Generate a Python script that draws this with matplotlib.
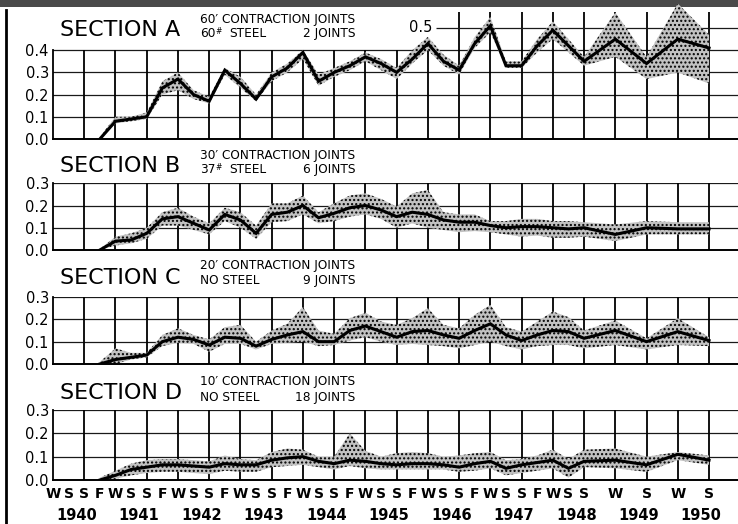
import matplotlib
matplotlib.use("Agg")
import matplotlib.pyplot as plt
from matplotlib.lines import Line2D
from matplotlib.patches import Rectangle
from matplotlib.transforms import blended_transform_factory

plt.rcParams["font.family"] = ["DejaVu Sans"]
plt.rcParams["hatch.color"] = "black"
plt.rcParams["hatch.linewidth"] = 1.0

# ---- season axis -------------------------------------------------------
season_letters = ["W", "S", "S", "F"] * 8 + ["W", "S", "S"] + ["W", "S", "W", "S"]
season_pos = list(range(35)) + [36, 38, 40, 42]
years = ["1940", "1941", "1942", "1943", "1944", "1945",
         "1946", "1947", "1948", "1949", "1950"]
winter_pos = [0, 4, 8, 12, 16, 20, 24, 28, 32, 36, 40]

# observations start in the fall of 1940
obs_pos = season_pos[3:]

# ---- joint openings (inches): mean and range ---------------------------
a_mean = [0.00, 0.08, 0.09, 0.10, 0.23, 0.27, 0.20, 0.17, 0.31, 0.25, 0.18,
          0.28, 0.32, 0.39, 0.26, 0.30, 0.33, 0.37, 0.34, 0.30, 0.36, 0.43,
          0.35, 0.31, 0.43, 0.51, 0.33, 0.33, 0.42, 0.49, 0.42, 0.35,
          0.45, 0.34, 0.45, 0.41]
a_high = [0.01, 0.10, 0.10, 0.12, 0.26, 0.30, 0.22, 0.19, 0.32, 0.28, 0.20,
          0.30, 0.34, 0.40, 0.29, 0.32, 0.35, 0.39, 0.36, 0.32, 0.40, 0.46,
          0.38, 0.33, 0.46, 0.55, 0.35, 0.35, 0.45, 0.53, 0.45, 0.37,
          0.57, 0.37, 0.61, 0.47]
a_low = [0.00, 0.07, 0.08, 0.09, 0.20, 0.22, 0.18, 0.16, 0.29, 0.23, 0.17,
         0.26, 0.30, 0.36, 0.24, 0.28, 0.31, 0.35, 0.31, 0.27, 0.34, 0.40,
         0.33, 0.29, 0.41, 0.48, 0.32, 0.32, 0.39, 0.45, 0.39, 0.33,
         0.37, 0.27, 0.30, 0.25]

b_mean = [0.00, 0.04, 0.045, 0.075, 0.14, 0.15, 0.12, 0.09, 0.16, 0.135, 0.075,
          0.16, 0.17, 0.20, 0.145, 0.165, 0.19, 0.20, 0.18, 0.15, 0.17, 0.16,
          0.135, 0.125, 0.125, 0.11, 0.10, 0.105, 0.105, 0.10, 0.095, 0.10,
          0.07, 0.10, 0.095, 0.095]
b_high = [0.005, 0.06, 0.075, 0.10, 0.17, 0.19, 0.15, 0.12, 0.19, 0.17, 0.11,
          0.21, 0.21, 0.245, 0.17, 0.21, 0.245, 0.255, 0.23, 0.195, 0.255, 0.27,
          0.17, 0.16, 0.16, 0.13, 0.13, 0.14, 0.14, 0.13, 0.13, 0.125,
          0.115, 0.13, 0.125, 0.125]
b_low = [0.00, 0.02, 0.03, 0.05, 0.11, 0.11, 0.09, 0.07, 0.13, 0.10, 0.05,
         0.125, 0.13, 0.16, 0.12, 0.13, 0.15, 0.16, 0.14, 0.10, 0.12, 0.10,
         0.09, 0.08, 0.085, 0.08, 0.07, 0.06, 0.065, 0.055, 0.055, 0.06,
         0.04, 0.07, 0.07, 0.07]

c_mean = [0.00, 0.02, 0.03, 0.04, 0.10, 0.12, 0.11, 0.085, 0.12, 0.115, 0.08,
          0.11, 0.13, 0.145, 0.10, 0.10, 0.15, 0.17, 0.145, 0.12, 0.145, 0.15,
          0.13, 0.115, 0.15, 0.18, 0.13, 0.105, 0.13, 0.15, 0.145, 0.115,
          0.15, 0.10, 0.145, 0.105]
c_high = [0.01, 0.07, 0.05, 0.05, 0.13, 0.16, 0.13, 0.11, 0.165, 0.175, 0.10,
          0.15, 0.18, 0.255, 0.15, 0.135, 0.205, 0.23, 0.19, 0.175, 0.205, 0.25,
          0.175, 0.16, 0.22, 0.265, 0.165, 0.145, 0.19, 0.235, 0.21, 0.15,
          0.195, 0.115, 0.205, 0.12]
c_low = [0.00, 0.00, 0.02, 0.03, 0.08, 0.095, 0.09, 0.055, 0.09, 0.09, 0.065,
         0.09, 0.095, 0.10, 0.08, 0.085, 0.105, 0.12, 0.10, 0.085, 0.09, 0.085,
         0.08, 0.07, 0.085, 0.10, 0.08, 0.065, 0.08, 0.085, 0.085, 0.07,
         0.085, 0.065, 0.085, 0.08]

d_mean = [0.00, 0.02, 0.045, 0.055, 0.065, 0.065, 0.06, 0.055, 0.07, 0.065, 0.065,
          0.085, 0.095, 0.10, 0.08, 0.07, 0.085, 0.08, 0.07, 0.065, 0.07, 0.07,
          0.065, 0.055, 0.07, 0.08, 0.05, 0.065, 0.075, 0.085, 0.05, 0.08,
          0.085, 0.065, 0.11, 0.085]
d_high = [0.01, 0.04, 0.07, 0.085, 0.09, 0.09, 0.085, 0.08, 0.105, 0.09, 0.085,
          0.12, 0.135, 0.13, 0.10, 0.10, 0.20, 0.125, 0.10, 0.115, 0.12, 0.115,
          0.10, 0.105, 0.115, 0.12, 0.085, 0.09, 0.105, 0.13, 0.09, 0.13,
          0.135, 0.10, 0.12, 0.105]
d_low = [0.00, 0.005, 0.02, 0.03, 0.035, 0.035, 0.03, 0.025, 0.04, 0.035, 0.035,
         0.055, 0.06, 0.065, 0.055, 0.045, 0.06, 0.05, 0.045, 0.045, 0.045, 0.045,
         0.045, 0.035, 0.04, 0.05, 0.02, 0.03, 0.04, 0.05, 0.01, 0.055,
         0.05, 0.035, 0.085, 0.065]

W, H = 738, 524
fig = plt.figure(figsize=(W / 100, H / 100), dpi=100)
fig.patch.set_facecolor("white")

X_UNIT = 15.62       # pixels per season step
LEFT = 53
X_MAX = 44


def px(x, y):
    return x / W, 1 - y / H


def panel(zero_y, top_y, y_top_val, ytop_lim):
    """Axes whose 0.0 line sits at zero_y px and y_top_val at top_y px."""
    scale = (zero_y - top_y) / y_top_val
    top_px = zero_y - ytop_lim * scale
    ax = fig.add_axes([LEFT / W, 1 - zero_y / H, X_MAX * X_UNIT / W,
                       (zero_y - top_px) / H])
    ax.set_xlim(0, X_MAX)
    ax.set_ylim(0, ytop_lim)
    ax.patch.set_alpha(0)
    for s in ("top", "right"):
        ax.spines[s].set_visible(False)
    ax.spines["left"].set_bounds(0, y_top_val)
    ax.spines["left"].set_linewidth(1.3)
    ax.spines["bottom"].set_linewidth(1.4)
    ticks = [round(0.1 * i, 1) for i in range(int(round(y_top_val * 10)) + 1)]
    ax.set_yticks(ticks, [f"{t:.1f}" for t in ticks])
    ax.tick_params(axis="y", length=0, pad=3, labelsize=10.5)
    ax.tick_params(axis="x", length=0)
    ax.set_xticks([])
    for t in ticks[1:]:
        ax.axhline(t, color="#1a1a1a", lw=0.9, zorder=1)
    return ax


def draw_series(ax, mean, low, high):
    ax.fill_between(obs_pos, low, high, facecolor="#c2c2c2",
                    edgecolor="black", hatch="....", linewidth=0, zorder=2)
    ax.plot(obs_pos, mean, color="black", lw=2.2, zorder=3,
            solid_joinstyle="miter")


def grid_v(ax, top):
    for p in range(2, 43, 2):
        ax.vlines(p, 0, top, color="black", lw=1.3, zorder=1)


# ---- Section A ---------------------------------------------------------
axA = panel(139, 50.2, 0.4, 0.626)
for p in range(2, 43, 2):
    top = 0.4 if p < 24 else (0.45 if p == 24 else 0.57)
    axA.vlines(p, 0, top, color="black", lw=1.3, zorder=1)
axA.hlines(0.5, 24.5, X_MAX, color="#1a1a1a", lw=0.9, zorder=1)
axA.text(24.3, 0.5, "0.5", ha="right", va="center", fontsize=10.5)
draw_series(axA, a_mean, a_low, a_high)

# ---- Section B ---------------------------------------------------------
axB = panel(250, 183.3, 0.3, 0.3)
grid_v(axB, 0.3)
draw_series(axB, b_mean, b_low, b_high)

# ---- Section C ---------------------------------------------------------
axC = panel(364, 297, 0.3, 0.3)
grid_v(axC, 0.3)
draw_series(axC, c_mean, c_low, c_high)

# ---- Section D ---------------------------------------------------------
axD = panel(480, 410, 0.3, 0.3)
grid_v(axD, 0.3)
draw_series(axD, d_mean, d_low, d_high)
axD.set_xticks(season_pos, season_letters)
axD.tick_params(axis="x", length=0, pad=5, labelsize=10)
for lab in axD.get_xticklabels():
    lab.set_fontweight("bold")
yr_tf = blended_transform_factory(axD.transData, fig.transFigure)
for w, yr in zip(winter_pos, years):
    axD.text(w + 1.5, 1 - 515 / H, yr, transform=yr_tf, ha="center",
             va="center", fontsize=10.5, fontweight="bold", clip_on=False)

# ---- section headings --------------------------------------------------
# (title, joint spacing, steel weight or None, joint count, title y, line-1 y, line-2 y)
headings = [
    ("SECTION A", "60\u2032", "60", "2 JOINTS", 30.5, 19, 33.5),
    ("SECTION B", "30\u2032", "37", "6 JOINTS", 166, 155, 169.5),
    ("SECTION C", "20\u2032", None, "9 JOINTS", 278, 266, 280.5),
    ("SECTION D", "10\u2032", None, "18 JOINTS", 393, 382, 397.5),
]
SUB = 8.7
renderer = fig.canvas.get_renderer()
for title, spacing, steel, joints, ty, y1, y2 in headings:
    fig.text(*px(60, ty), title, fontsize=16, ha="left", va="center")
    first = fig.text(*px(200, y1), f"{spacing} CONTRACTION JOINTS",
                     fontsize=SUB, ha="left", va="center")
    right_edge = first.get_window_extent(renderer).x1 / W
    if steel is None:
        fig.text(*px(200, y2), "NO STEEL", fontsize=SUB, ha="left", va="center")
    else:
        fig.text(*px(200, y2), steel, fontsize=SUB, ha="left", va="center")
        fig.text(*px(215.5, y2 - 2), "#", fontsize=5.5, ha="left", va="center")
        fig.text(*px(229, y2), "STEEL", fontsize=SUB, ha="left", va="center")
    fig.text(right_edge, 1 - y2 / H, joints, fontsize=SUB, ha="right",
             va="center")

# ---- page border -------------------------------------------------------
fig.add_artist(Rectangle((0, 1 - 7 / H), 1, 7 / H, transform=fig.transFigure,
                         facecolor="#4a4a4a", edgecolor="none", zorder=-1))
fig.add_artist(Line2D([6 / W, 6 / W], [1 - 10 / H, 0], transform=fig.transFigure,
                      color="black", lw=2))

fig.savefig("out.png", dpi=100)
